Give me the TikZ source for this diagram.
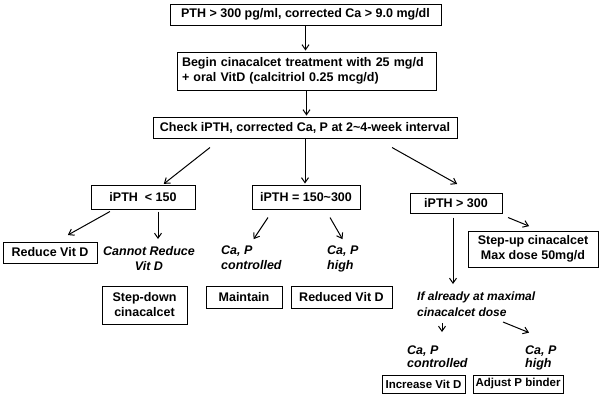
\documentclass[tikz,border=0pt]{standalone}
\usepackage{fontspec}
\setmainfont{Liberation Sans}
\usepackage{tikz}
\usetikzlibrary{arrows.meta}

\begin{document}
\begin{tikzpicture}[
        x=1pt, y=-1pt,
        every node/.style={font=\fontsize{12.5}{15}\selectfont\bfseries},
        box/.style={draw, line width=1pt, inner sep=2pt, align=center},
        small/.style={font=\fontsize{11.5}{14}\selectfont\bfseries},
        note/.style={inner sep=0pt, align=left, anchor=north west, font=\fontsize{12.5}{15}\selectfont\bfseries\itshape},
        edge/.style={draw, line width=1pt, -{Straight Barb[length=5pt,width=7pt]}, shorten >=1pt}
    ]
 \useasboundingbox (0,0) rectangle (600,400);
 \node[box, minimum width=271pt, minimum height=21pt] (pth) at (305.5,14.5) {PTH > 300 pg/ml, corrected Ca > 9.0 mg/dl};
 \node[box, text width=249pt, inner sep=5pt, minimum height=38pt, align=left] (begin) at (306.5,71) {Begin cinacalcet treatment with 25 mg/d\\+ oral VitD (calcitriol 0.25 mcg/d)};
 \node[box, minimum width=304pt, minimum height=21pt] (check) at (305,127.5) {Check iPTH, corrected Ca, P at 2\textasciitilde4-week interval};
 \node[box, minimum width=104pt, minimum height=24pt] (lo) at (143,197) {iPTH \ < 150};
 \node[box, minimum width=108pt, minimum height=24pt] (mid) at (306,197) {iPTH = 150\textasciitilde300};
 \node[box, minimum width=92pt, minimum height=20pt] (hi) at (456,203) {iPTH > 300};
 \node[box, minimum width=94pt, minimum height=21pt] (redvd) at (50,252.5) {Reduce Vit D};
 \node[note, align=center, anchor=north] (cannot) at (149,246) {Cannot Reduce\\Vit D};
 \node[box, minimum width=85pt, minimum height=38pt] (stepdown) at (144.5,305) {Step-down\\cinacalcet};
 \node[note] (capc1) at (221,246) {Ca, P\\controlled};
 \node[note] (caph1) at (327,246) {Ca, P\\high};
 \node[box, minimum width=76pt, minimum height=22pt] (maintain) at (244,297) {Maintain};
 \node[box, minimum width=101pt, minimum height=22pt] (reducedvd) at (341.5,297) {Reduced Vit D};
 \node[box, minimum width=130pt, minimum height=36pt] (stepup) at (533,249) {Step-up cinacalcet\\Max dose 50mg/d};
 \node[note, font=\fontsize{12}{16}\selectfont\bfseries\itshape] (ifmax) at (417,292) {If already at maximal\\cinacalcet dose};
 \node[note, font=\fontsize{12.5}{13}\selectfont\bfseries\itshape] (capc2) at (407,346) {Ca, P\\controlled};
 \node[note, font=\fontsize{12.5}{13}\selectfont\bfseries\itshape] (caph2) at (525,346) {Ca, P\\high};
 \node[box, small, minimum width=83pt, minimum height=18pt] (incvd) at (423.5,384) {Increase Vit D};
 \node[box, small, minimum width=90pt, minimum height=18pt] (adjp) at (518,384) {Adjust P binder};

 \draw[edge] (pth.south) -- (pth.south |- begin.north);
 \draw[edge] (begin.south) -- (begin.south |- check.north);
 \draw[edge] ([xshift=-95,yshift=-9]check.south) -- ([xshift=20]lo.north);
 \draw[edge] (check.south) -- (check.south |- mid.north);
 \draw[edge] ([xshift=87,yshift=-9]check.south) -- ([xshift=2,yshift=8]hi.north);
 \draw[edge] ([xshift=-33,yshift=-2]lo.south) -- ([xshift=17,yshift=6]redvd.north);
 \draw[edge] ([xshift=15,yshift=-2]lo.south) -- ([xshift=9,yshift=6]cannot.north);
 \draw[edge] ([xshift=-38,yshift=-8]mid.south) -- ([xshift=32,yshift=6]capc1.north west);
 \draw[edge] ([xshift=24,yshift=-8]mid.south) -- ([xshift=16,yshift=6]caph1.north west);
 \draw[edge] ([xshift=-3,yshift=-4]hi.south) -- ([xshift=36,yshift=7]ifmax.north west);
 \draw[edge] ([xshift=52,yshift=-4]hi.south) -- ([xshift=-3,yshift=4]stepup.north);
 \draw[edge] ([xshift=25,yshift=-31]ifmax.north west) -- ([xshift=35,yshift=13]capc2.north west);
 \draw[edge] ([xshift=86,yshift=-30]ifmax.north west) -- ([xshift=5,yshift=13]caph2.north west);
\end{tikzpicture}
\end{document}
